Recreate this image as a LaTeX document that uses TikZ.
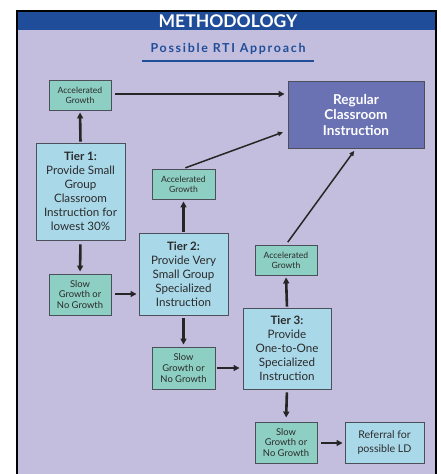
\documentclass[tikz,border=0pt]{standalone}
\usepackage{fontspec}
\setmainfont{Lato}
\usetikzlibrary{arrows.meta}
\definecolor{bgl}{HTML}{C3BEDD}
\definecolor{barblue}{HTML}{1F4D99}
\definecolor{tealbox}{HTML}{8DCFC3}
\definecolor{bluebox}{HTML}{A9D8E9}
\definecolor{regbox}{HTML}{6B72B4}
\definecolor{txt}{HTML}{2B2B2B}
\definecolor{edge}{HTML}{4A4F5A}
\tikzset{
  box/.style={draw=edge, line width=0.9pt, align=center, inner sep=1pt, text=txt},
  smallbox/.style={box, fill=tealbox, minimum width=62pt, font=\fontsize{8.6}{10}\selectfont},
  slowbox/.style={box, fill=tealbox, minimum width=62pt, minimum height=41pt, font=\fontsize{9.4}{10.6}\selectfont},
  tierbox/.style={box, fill=bluebox, minimum width=89pt, font=\fontsize{11.6}{14}\selectfont},
  bigarrow/.style={line width=2.6pt, draw=black!85, -{Triangle[length=6pt,width=6pt]}},
  thinarrow/.style={line width=1.5pt, draw=black!85, -{Triangle[length=5pt,width=4.5pt]}}
}
\begin{document}
\begin{tikzpicture}[x=1pt,y=-1pt]
\useasboundingbox (0,0) rectangle (440,474);
\fill[bgl] (17,11) rectangle (436,480);
\fill[barblue] (17,11) rectangle (436,30);
\draw[black, line width=1.2pt] (17,480) -- (17,11) -- (436,11) -- (436,480);
\node[font=\bfseries\fontsize{17.5}{18}\selectfont, text=white] (title) at (228,21) {METHODOLOGY};
\node[font=\bfseries\fontsize{12.4}{13}\selectfont, text=barblue] (sub) at (228,49) {\addfontfeature{LetterSpace=14}Possible RTI Approach};
\draw[barblue, line width=1.3pt] (142,61) -- (314,61);

\node[smallbox, minimum height=30pt] (acc1) at (80,95) {Accelerated\\Growth};
\node[box, fill=regbox, minimum width=136pt, minimum height=67pt, text=white, font=\bfseries\fontsize{13.6}{15.5}\selectfont] (reg) at (356,114.5) {Regular\\Classroom\\Instruction};
\node[tierbox, minimum height=97pt] (t1) at (80.5,191.5) {\textbf{Tier 1:}\\Provide Small\\Group\\Classroom\\Instruction for\\lowest 30\%};
\node[smallbox, minimum width=63pt, minimum height=30pt] (acc2) at (183.5,184) {Accelerated\\Growth};
\node[tierbox, minimum height=82pt] (t2) at (183.5,274) {\textbf{Tier 2:}\\Provide Very\\Small Group\\Specialized\\Instruction};
\node[slowbox] (s1) at (80,294.5) {Slow\\Growth or\\No Growth};
\node[smallbox, minimum height=30pt] (acc3) at (286,260) {Accelerated\\Growth};
\node[tierbox, minimum width=88pt, minimum height=81pt] (t3) at (287,348.5) {\textbf{Tier 3:}\\Provide\\One-to-One\\Specialized\\Instruction};
\node[slowbox, minimum width=63pt, minimum height=42pt] (s2) at (183.5,368) {Slow\\Growth or\\No Growth};
\node[slowbox] (s3) at (286,442.5) {Slow\\Growth or\\No Growth};
\node[box, fill=bluebox, minimum width=79pt, minimum height=41pt, font=\fontsize{10.6}{13.5}\selectfont] (ref) at (384.5,442.5) {Referral for\\possible LD};

\draw[bigarrow, shorten <=4pt, shorten >=3pt] (acc1.east |- 0,94) -- (reg.west |- 0,94);
\draw[bigarrow, shorten <=1pt, shorten >=2pt] (t1.north) -- (acc1.south);
\draw[bigarrow, shorten <=4pt, shorten >=2pt] (t1.south) -- (s1.north);
\draw[bigarrow, shorten <=4pt, shorten >=2pt] (s1.east |- 0,294) -- (t2.west |- 0,294);
\draw[bigarrow, shorten <=1pt, shorten >=2pt] (t2.north) -- (acc2.south);
\draw[bigarrow, shorten <=3pt, shorten >=2pt] (t2.south) -- (s2.north);
\draw[bigarrow, shorten <=2pt, shorten >=3pt] (s2.east |- 0,368) -- (t3.west |- 0,368);
\draw[bigarrow, shorten <=1pt, shorten >=2pt] (t3.north) -- (acc3.south);
\draw[bigarrow, shorten <=3pt, shorten >=4pt] (t3.south) -- (s3.north);
\draw[bigarrow, shorten <=4pt, shorten >=2pt] (s3.east |- 0,443) -- (ref.west |- 0,443);
\draw[thinarrow, shorten <=2pt, shorten >=5pt] (acc2.north) -- ([yshift=-16pt]reg.west);
\draw[thinarrow, shorten <=3pt, shorten >=3pt] (acc3.north) -- (reg.south);
\end{tikzpicture}
\end{document}
